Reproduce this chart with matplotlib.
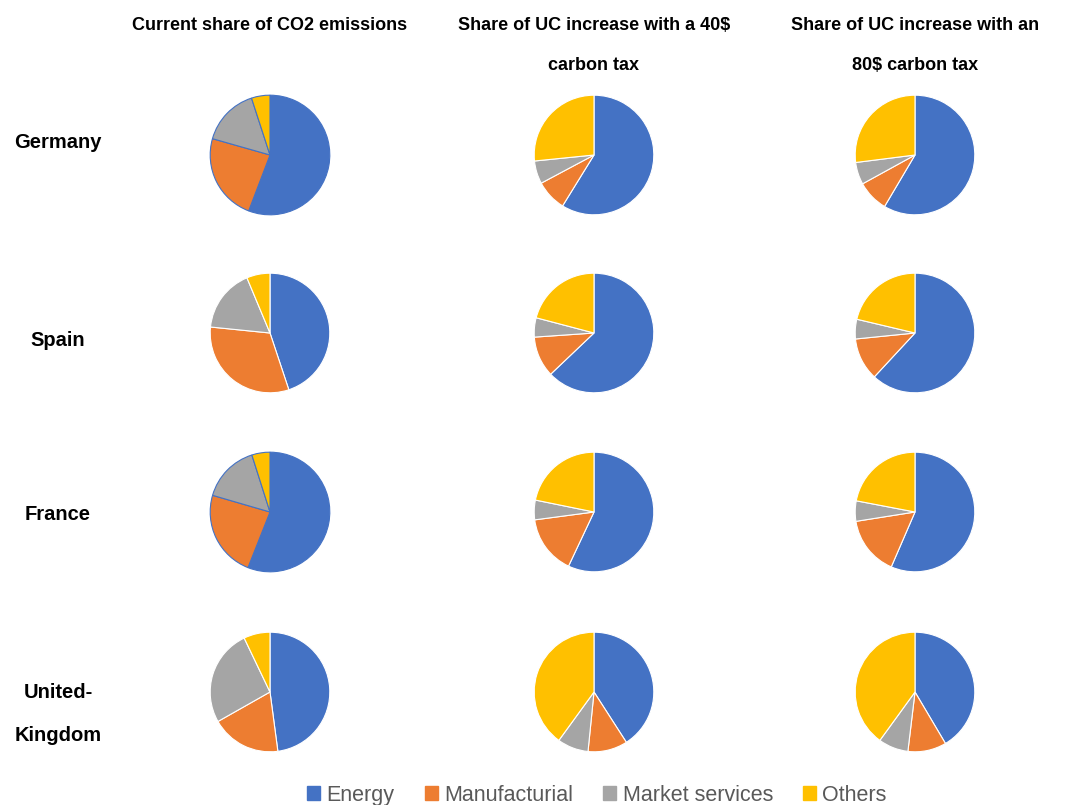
import matplotlib.pyplot as plt

sectors = ["Energy", "Manufacturial", "Market services", "Others"]
colors = ["#4472C4", "#ED7D31", "#A5A5A5", "#FFC000"]

countries = ["Germany", "Spain", "France", "United-\nKingdom"]
columns = ["Current share of CO2 emissions",
           "Share of UC increase with a 40$\ncarbon tax",
           "Share of UC increase with an\n80$ carbon tax"]

# shares in % : Energy, Manufacturial, Market services, Others
current = [
    [55.8, 23.6, 15.6, 5.0],
    [44.9, 31.7, 17.1, 6.3],
    [56.0, 23.5, 15.6, 4.9],
    [47.9, 18.9, 26.1, 7.1],
]
tax40 = [
    [58.8, 8.4, 6.2, 26.6],
    [62.9, 11.0, 5.2, 20.9],
    [57.0, 15.9, 5.3, 21.8],
    [40.9, 10.7, 8.4, 40.0],
]
tax80 = [
    [58.5, 8.5, 6.0, 27.0],
    [61.9, 11.5, 5.3, 21.3],
    [56.5, 16.0, 5.5, 22.0],
    [41.5, 10.4, 8.1, 40.0],
]

W, H = 1067, 805
fig = plt.figure(figsize=(W / 100, H / 100), dpi=100)
plt.rcParams['font.family'] = ['Liberation Sans', 'DejaVu Sans']

col_x = [270, 594, 915]
row_y = [155, 333, 512, 692]
r = 61

for j, data in enumerate([current, tax40, tax80]):
    for i, vals in enumerate(data):
        ax = fig.add_axes([(col_x[j] - r) / W, 1 - (row_y[i] + r) / H, 2 * r / W, 2 * r / H])
        # current-share pies for Germany and France keep a thin blue outline
        edge = "#4472C4" if (j == 0 and i in (0, 2)) else "white"
        ax.pie(vals, colors=colors, startangle=90, counterclock=False,
               wedgeprops=dict(edgecolor=edge, linewidth=0.8))
        ax.set_xlim(-1.02, 1.02)
        ax.set_ylim(-1.02, 1.02)
        ax.set_aspect("equal")
        ax.axis("off")

for j, title in enumerate(columns):
    fig.text(col_x[j] / W, 1 - 17 / H, title, ha="center", va="top",
             fontsize=13, fontweight="bold", linespacing=2.8)

label_y = [142, 341, 514, 714]
for i, name in enumerate(countries):
    fig.text(58 / W, 1 - label_y[i] / H, name, ha="center", va="center",
             fontsize=14.5, fontweight="bold", linespacing=2.6)

handles = [plt.Rectangle((0, 0), 1, 1, color=c) for c in colors]
fig.legend(handles, sectors, loc="center", bbox_to_anchor=(597 / W, 1 - 795 / H),
           ncol=4, frameon=False, fontsize=15.5, handlelength=0.6, handleheight=0.6,
           handletextpad=0.3, columnspacing=1.4, labelcolor="#595959")

fig.savefig("out.png", dpi=100, facecolor="white")
